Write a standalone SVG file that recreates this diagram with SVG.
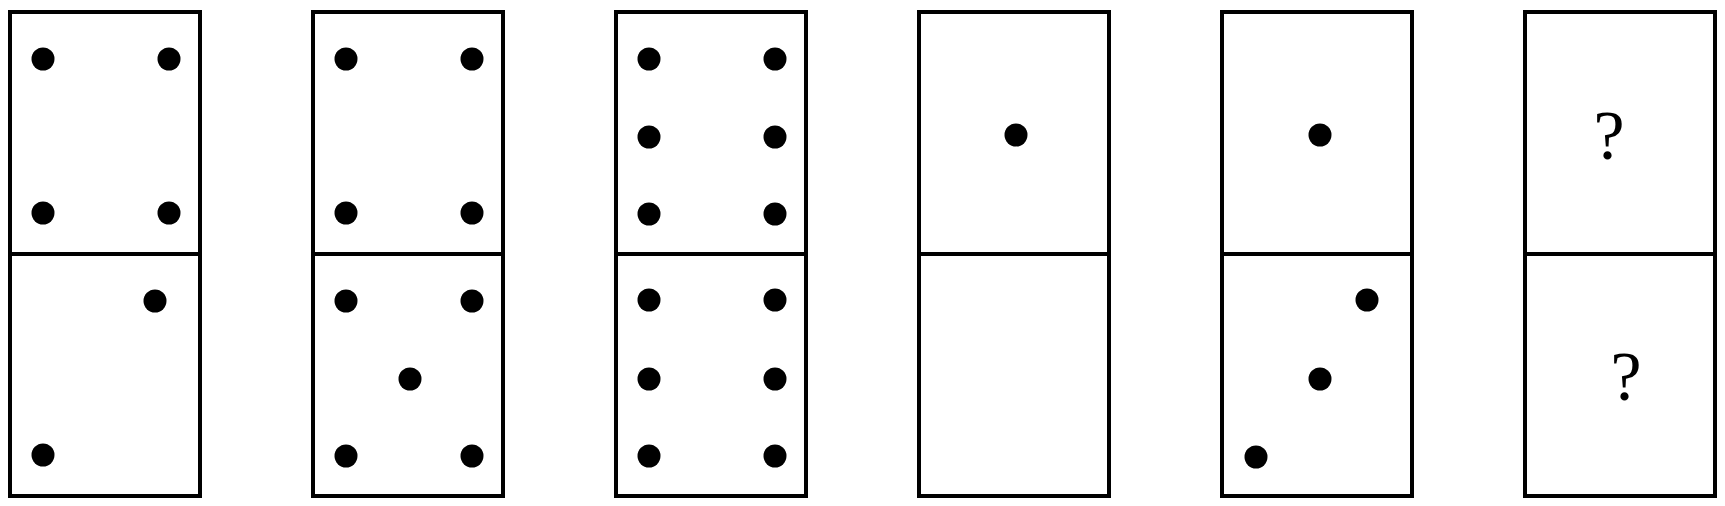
<svg xmlns="http://www.w3.org/2000/svg" width="1725" height="506" viewBox="0 0 1725 506">
<style>
.box{fill:#fff;stroke:#000;stroke-width:4}
.pip{fill:#000}
.q{font-family:"Liberation Serif","DejaVu Serif",serif;font-size:70px;fill:#000;text-anchor:middle}
</style>
<defs><circle id="p" r="11.5" class="pip"/></defs>
<rect width="1725" height="506" fill="#fff"/>
<g id="domino1">
<rect class="box" x="10" y="12" width="190" height="242"/>
<rect class="box" x="10" y="254" width="190" height="242"/>
<use href="#p" x="43" y="59"/><use href="#p" x="169" y="59"/>
<use href="#p" x="43" y="213"/><use href="#p" x="169" y="213"/>
<use href="#p" x="155" y="301"/><use href="#p" x="43" y="455"/>
</g>
<g id="domino2">
<rect class="box" x="313" y="12" width="190" height="242"/>
<rect class="box" x="313" y="254" width="190" height="242"/>
<use href="#p" x="346" y="59"/><use href="#p" x="472" y="59"/>
<use href="#p" x="346" y="213"/><use href="#p" x="472" y="213"/>
<use href="#p" x="346" y="301"/><use href="#p" x="472" y="301"/>
<use href="#p" x="410" y="379"/>
<use href="#p" x="346" y="456"/><use href="#p" x="472" y="456"/>
</g>
<g id="domino3">
<rect class="box" x="616" y="12" width="190" height="242"/>
<rect class="box" x="616" y="254" width="190" height="242"/>
<use href="#p" x="649" y="59"/><use href="#p" x="775" y="59"/>
<use href="#p" x="649" y="137"/><use href="#p" x="775" y="137"/>
<use href="#p" x="649" y="214"/><use href="#p" x="775" y="214"/>
<use href="#p" x="649" y="300"/><use href="#p" x="775" y="300"/>
<use href="#p" x="649" y="379"/><use href="#p" x="775" y="379"/>
<use href="#p" x="649" y="456"/><use href="#p" x="775" y="456"/>
</g>
<g id="domino4">
<rect class="box" x="919" y="12" width="190" height="242"/>
<rect class="box" x="919" y="254" width="190" height="242"/>
<use href="#p" x="1016" y="135"/>
</g>
<g id="domino5">
<rect class="box" x="1222" y="12" width="190" height="242"/>
<rect class="box" x="1222" y="254" width="190" height="242"/>
<use href="#p" x="1320" y="135"/>
<use href="#p" x="1367" y="300"/>
<use href="#p" x="1320" y="379"/>
<use href="#p" x="1256" y="457"/>
</g>
<g id="domino6">
<rect class="box" x="1525" y="12" width="190" height="242"/>
<rect class="box" x="1525" y="254" width="190" height="242"/>
<text class="q" x="1609" y="159">?</text>
<text class="q" x="1626" y="400">?</text>
</g>
<g id="connectors"/>
</svg>
